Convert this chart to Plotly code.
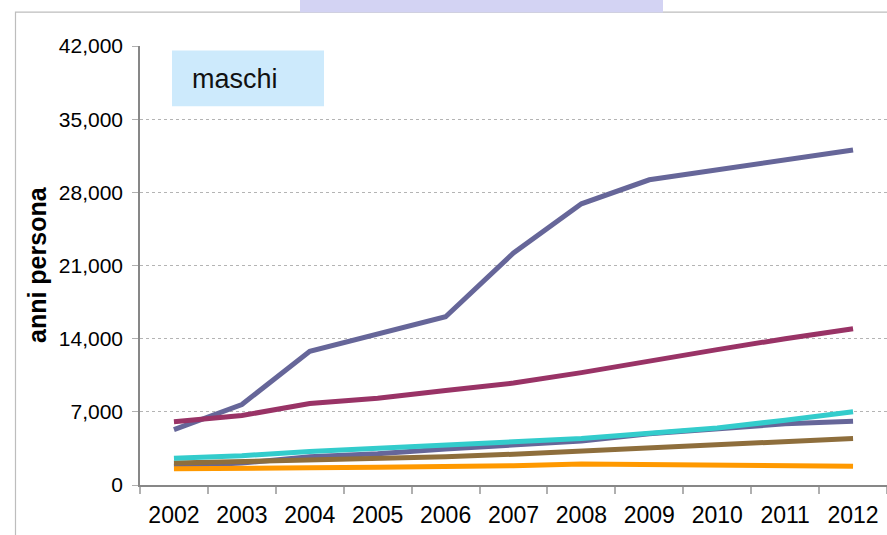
"""Anni persona per anno (maschi) - line chart, 2002-2012."""
import plotly.graph_objects as go

years = ["2002", "2003", "2004", "2005", "2006", "2007", "2008", "2009", "2010", "2011", "2012"]

# series values
serie_a = [5300, 7700, 12800, 14400, 16100, 22200, 26900, 29200, 30150, 31100, 32050]
serie_b = [6050, 6650, 7800, 8300, 9050, 9750, 10750, 11900, 12950, 14000, 14950]
serie_c = [1800, 2100, 2700, 3000, 3450, 3850, 4200, 4900, 5400, 5850, 6100]
serie_d = [2100, 2250, 2450, 2500, 2700, 2950, 3250, 3500, 3800, 4100, 4450]
serie_e = [1550, 1650, 1650, 1700, 1750, 1850, 2000, 1950, 1850, 1850, 1800]
serie_f = [2550, 2800, 3200, 3500, 3850, 4150, 4450, 4950, 5450, 6200, 7000]

y_ticks = [0, 7000, 14000, 21000, 28000, 35000, 42000]

series = [
    (serie_a, "#666699"),
    (serie_b, "#993366"),
    (serie_c, "#666699"),
    (serie_d, "#8e6e3c"),
    (serie_e, "#ff9900"),
    (serie_f, "#33cccc"),
]

fig = go.Figure()
for vals, col in series:
    fig.add_trace(go.Scatter(
        x=years, y=vals, mode="lines",
        line=dict(color=col, width=5),
        showlegend=False, hoverinfo="skip",
    ))

# plot area: x 140..887, y 45.5..485.5 (px)
PX_L, PX_R, PX_T, PX_B = 140, 887, 45.5, 485.5


def px(x):
    return (x - PX_L) / (PX_R - PX_L)


def py(y):
    return (PX_B - y) / (PX_B - PX_T)


shapes = [
    # outer frame
    dict(type="rect", xref="paper", yref="paper",
         x0=px(15.5), x1=px(900), y0=py(560), y1=py(11.5),
         line=dict(color="#bdbdbd", width=1.2), fillcolor="rgba(0,0,0,0)"),
    # lilac strip at the top
    dict(type="rect", xref="paper", yref="paper",
         x0=px(300), x1=px(663), y0=py(12), y1=py(-2),
         line=dict(width=0), fillcolor="#d3d3f3"),
    # "maschi" box
    dict(type="rect", xref="paper", yref="paper",
         x0=px(172), x1=px(324), y0=py(106), y1=py(50),
         line=dict(width=0), fillcolor="#cdeafc"),
]

annotations = [
    dict(text="maschi", xref="paper", yref="paper", x=px(190), y=py(79),
         xanchor="left", yanchor="middle", showarrow=False,
         font=dict(family="Liberation Sans, Arial", size=27, color="#111111")),
    dict(text="<b>anni persona</b>", xref="paper", yref="paper", x=px(37), y=py(265),
         xanchor="center", yanchor="middle", textangle=-90, showarrow=False,
         font=dict(family="Liberation Sans, Arial", size=25, color="#000000")),
]

fig.update_layout(
    width=887, height=535,
    margin=dict(l=PX_L, r=0, t=PX_T, b=535 - PX_B),
    plot_bgcolor="white", paper_bgcolor="white",
    font=dict(family="Liberation Sans, Arial", color="#000000"),
    shapes=shapes, annotations=annotations,
    xaxis=dict(
        type="category", range=[-0.5, 10.5], tickson="boundaries",
        showgrid=False, showline=True, linecolor="#878787", linewidth=1.5,
        ticks="outside", ticklen=7, tickcolor="#b0b0b0", tickwidth=1.5,
        tickfont=dict(size=23), ticklabelstandoff=9,
    ),
    yaxis=dict(
        range=[0, 42000], tickvals=y_ticks, tickformat=",",
        showgrid=True, gridcolor="#b4b4b4", griddash="dot", gridwidth=1,
        showline=True, linecolor="#878787", linewidth=1.5,
        ticks="outside", ticklen=6, tickcolor="#b0b0b0",
        tickfont=dict(size=21), ticklabelstandoff=5, zeroline=False,
    ),
)

# page margin off so the figure sits at the window's corner
fig.write_html("out.html", config={"displayModeBar": False},
               post_script="document.body.style.margin='0';")
